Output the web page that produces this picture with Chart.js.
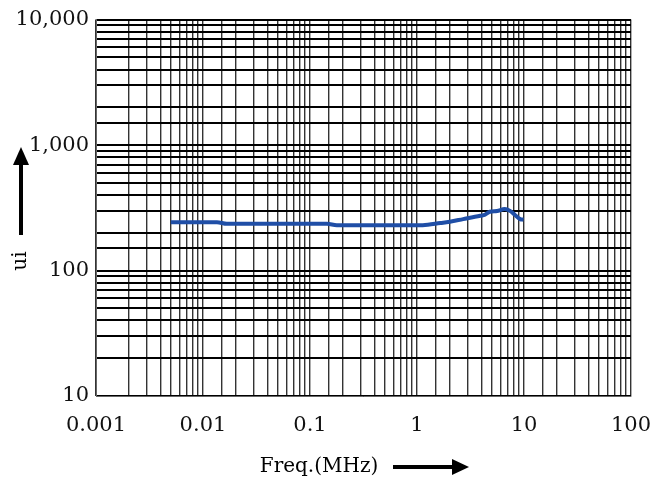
<!DOCTYPE html>
<html>
<head>
<meta charset="utf-8">
<script src="https://cdn.jsdelivr.net/npm/chart.js@4/dist/chart.umd.min.js"></script>
<style>
  html, body { margin: 0; padding: 0; background: #ffffff; }
  #wrap { width: 670px; height: 481px; }
</style>
</head>
<body>
<div id="wrap"><canvas id="c" width="670" height="481"></canvas></div>
<script>
// ---- data ----
const freqMHz = [0.005, 0.0135, 0.0167, 0.144, 0.178, 1.13, 1.65, 2.03, 2.7, 3.9, 4.2, 4.8, 5.6, 6.6, 7.4, 8.2, 9.2, 9.9];
const uiValues = [243, 243, 236, 236, 230, 230, 239, 245, 257, 273, 276, 294, 298, 309, 299, 278, 257, 254];

const xTickValues = [0.001, 0.01, 0.1, 1, 10, 100];
const xTickLabels = ['0.001', '0.01', '0.1', '1', '10', '100'];
const yTickValues = [10, 100, 1000, 10000];
const yTickLabels = ['10', '100', '1,000', '10,000'];

const xTitle = 'Freq.(MHz)';
const yTitle = 'ui';

const FONT = '"DejaVu Serif", serif';

function labelFor(value, values, labels) {
  for (let i = 0; i < values.length; i++) {
    if (Math.abs(Math.log10(value) - Math.log10(values[i])) < 1e-6) return labels[i];
  }
  return '';
}

const arrowPlugin = {
  id: 'axisArrows',
  afterDraw(chart) {
    const ctx = chart.ctx;
    ctx.save();
    ctx.fillStyle = '#000';
    ctx.strokeStyle = '#000';
    // Y title rotated
    ctx.font = '20px ' + FONT;
    ctx.textAlign = 'center';
    ctx.textBaseline = 'middle';
    ctx.save();
    ctx.translate(21, 261);
    ctx.rotate(-Math.PI / 2);
    ctx.fillText(yTitle, 0, 0);
    ctx.restore();
    // Y arrow
    ctx.lineWidth = 4;
    ctx.beginPath();
    ctx.moveTo(21, 235);
    ctx.lineTo(21, 162);
    ctx.stroke();
    ctx.beginPath();
    ctx.moveTo(21, 147);
    ctx.lineTo(29, 165);
    ctx.lineTo(13, 165);
    ctx.closePath();
    ctx.fill();
    // X title
    ctx.fillText(xTitle, 319, 467);
    // X arrow
    ctx.beginPath();
    ctx.moveTo(393, 467);
    ctx.lineTo(455, 467);
    ctx.stroke();
    ctx.beginPath();
    ctx.moveTo(469, 467);
    ctx.lineTo(452, 459);
    ctx.lineTo(452, 475);
    ctx.closePath();
    ctx.fill();
    ctx.restore();
  }
};

new Chart(document.getElementById('c'), {
  type: 'line',
  data: {
    datasets: [{
      data: freqMHz.map((f, i) => ({ x: f, y: uiValues[i] })),
      borderColor: '#1f4ea6',
      borderWidth: 4,
      pointRadius: 0,
      cubicInterpolationMode: 'monotone',
      fill: false
    }]
  },
  options: {
    responsive: false,
    animation: false,
    devicePixelRatio: 1,
    layout: { padding: { left: 0, top: 18, right: 39, bottom: 0 } },
    plugins: { legend: { display: false }, tooltip: { enabled: false } },
    scales: {
      x: {
        type: 'logarithmic',
        min: 0.001,
        max: 100,
        afterFit(scale) { scale.height = 85; },
        border: { display: true, color: '#666', width: 1 },
        grid: { color: '#333', lineWidth: 1.4, drawTicks: false },
        ticks: {
          autoSkip: false,
          maxRotation: 0,
          minRotation: 0,
          padding: 17,
          color: '#111',
          font: { family: FONT, size: 21 },
          callback: (v) => labelFor(v, xTickValues, xTickLabels)
        }
      },
      y: {
        type: 'logarithmic',
        min: 10,
        max: 10000,
        afterFit(scale) { scale.width = 96; },
        border: { display: true, color: '#666', width: 1 },
        grid: { color: '#000', lineWidth: 2, drawTicks: false },
        ticks: {
          autoSkip: false,
          padding: 7,
          color: '#111',
          font: { family: FONT, size: 21 },
          callback: (v) => labelFor(v, yTickValues, yTickLabels)
        }
      }
    }
  },
  plugins: [arrowPlugin]
});
</script>
</body>
</html>
